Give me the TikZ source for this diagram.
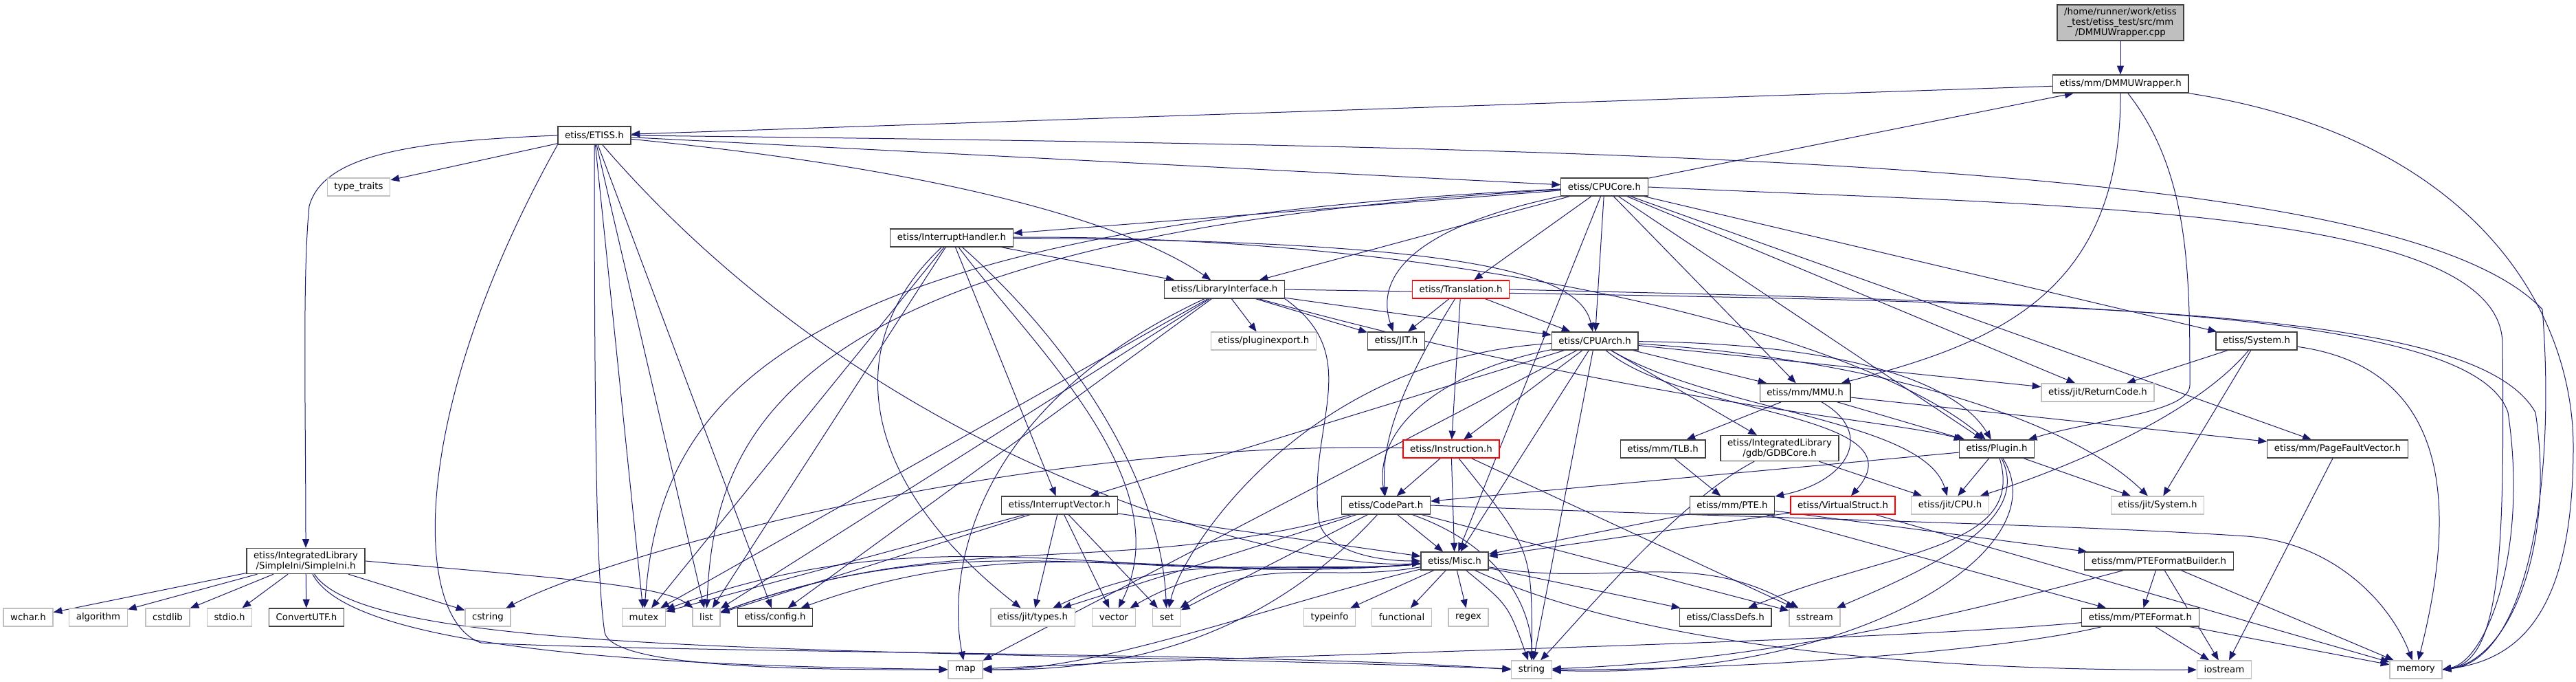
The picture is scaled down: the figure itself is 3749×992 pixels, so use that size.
\documentclass[tikz,border=0pt]{standalone}
\usepackage{fontspec}
\setmainfont{DejaVu Sans}
\usetikzlibrary{arrows.meta,backgrounds}
\definecolor{edgeblue}{HTML}{191970}
\definecolor{grey25}{HTML}{404040}
\definecolor{grey75}{HTML}{BFBFBF}

\begin{document}
\begin{tikzpicture}[
    x=0.75pt, y=0.75pt,
    box/.style={rectangle, draw=grey25, fill=white, line width=1pt, minimum height=19.5pt, inner xsep=7.6pt, inner ysep=3.4pt, align=center, font=\fontsize{10}{11.25}\selectfont},
    sys/.style={box, draw=grey75},
    trunc/.style={box, draw=red},
    root/.style={box, fill=grey75},
    arrow/.style={-{Triangle[length=9.5pt, width=7.5pt]}, draw=edgeblue, line width=0.75pt},
]
\useasboundingbox (0,0) rectangle (3749,-992);

% ====== Top ======
\node[root] (cpp) at (3086,-33) {/home/runner/work/etiss\\\_test/etiss\_test/src/mm\\/DMMUWrapper.cpp};
\node[box] (dmmu) at (3086,-122) {etiss/mm/DMMUWrapper.h};
\node[box] (etiss) at (865,-197) {etiss/ETISS.h};
\node[sys] (typeTraits) at (522,-272) {type\_traits};
\node[box] (cpuCore) at (2335,-272) {etiss/CPUCore.h};
\node[box] (intHandler) at (1385,-346) {etiss/InterruptHandler.h};
\node[box] (libIf) at (1782,-421) {etiss/LibraryInterface.h};
\node[trunc] (transl) at (2126,-421) {etiss/Translation.h};

% ====== Middle ======
\node[sys] (plugExp) at (1839,-496) {etiss/pluginexport.h};
\node[box] (jit) at (2032,-496) {etiss/JIT.h};
\node[box] (cpuArch) at (2321,-496) {etiss/CPUArch.h};
\node[box] (sysH) at (3284,-496) {etiss/System.h};
\node[box] (mmu) at (2627,-571) {etiss/mm/MMU.h};
\node[sys] (retCode) at (3053,-571) {etiss/jit/ReturnCode.h};
\node[trunc] (instr) at (2112,-653) {etiss/Instruction.h};
\node[box] (tlb) at (2420,-653) {etiss/mm/TLB.h};
\node[box] (gdbCore) at (2590,-652) {etiss/IntegratedLibrary\\/gdb/GDBCore.h};
\node[box] (plugin) at (2906,-653) {etiss/Plugin.h};
\node[box] (pfVec) at (3402,-653) {etiss/mm/PageFaultVector.h};
\node[box] (intVec) at (1542,-735) {etiss/InterruptVector.h};
\node[box] (codePart) at (2017,-735) {etiss/CodePart.h};
\node[box] (pte) at (2521,-735) {etiss/mm/PTE.h};
\node[trunc] (vStruct) at (2682,-735) {etiss/VirtualStruct.h};
\node[sys] (jitCpu) at (2838,-735) {etiss/jit/CPU.h};
\node[sys] (jitSys) at (3140,-735) {etiss/jit/System.h};
\node[box] (simpleIni) at (445,-816) {etiss/IntegratedLibrary\\/SimpleIni/SimpleIni.h};
\node[box] (misc) at (2117,-816) {etiss/Misc.h};
\node[box] (pteBuilder) at (3142,-816) {etiss/mm/PTEFormatBuilder.h};

% ====== Bottom ======
\node[sys] (wcharH) at (41,-898) {wchar.h};
\node[sys] (algo) at (143,-898) {algorithm};
\node[sys] (cstdlibH) at (244,-898) {cstdlib};
\node[sys] (stdioH) at (334,-898) {stdio.h};
\node[box] (convUtf) at (446,-898) {ConvertUTF.h};
\node[sys] (cstringH) at (710,-898) {cstring};
\node[sys] (mutex) at (937,-898) {mutex};
\node[sys] (list) at (1028,-898) {list};
\node[box] (config) at (1128,-898) {etiss/config.h};
\node[sys] (jitTypes) at (1503,-898) {etiss/jit/types.h};
\node[sys] (vector) at (1621,-898) {vector};
\node[sys] (set) at (1698,-898) {set};
\node[sys] (typeinfo) at (1935,-898) {typeinfo};
\node[sys] (functional) at (2040,-898) {functional};
\node[sys] (regex) at (2137,-898) {regex};
\node[box] (classDefs) at (2511,-898) {etiss/ClassDefs.h};
\node[sys] (sstream) at (2641,-898) {sstream};
\node[box] (pteFmt) at (3115,-898) {etiss/mm/PTEFormat.h};
\node[sys] (map) at (1405,-974) {map};
\node[sys] (string) at (2229,-974) {string};
\node[sys] (iostream) at (3237,-974) {iostream};
\node[sys] (memory) at (3516,-974) {memory};

\begin{scope}[on background layer]
\fill[white] (0,0) rectangle (3749,-992);

% ====== Wrapper ======
\draw[arrow] (cpp) -- (dmmu);
\draw[arrow] (dmmu) -- (etiss);
\draw[arrow] (dmmu) .. controls (3087,-430) and (2900,-500) .. (mmu);
\draw[arrow] (dmmu) .. controls (3187,-250) and (3187,-400) .. (3187,-560) .. controls (3187,-600) and (3050,-610) .. (plugin);
\draw[arrow] (dmmu.south east) .. controls (3600,-200) and (3745,-450) .. (3745,-650) .. controls (3745,-900) and (3660,-960) .. (memory.east);

% ====== ETISS.h ======
\draw[arrow] (etiss) -- (typeTraits);
\draw[arrow] (etiss.west) .. controls (600,-205) and (470,-225) .. (450,-300) .. controls (440,-400) and (445,-600) .. (simpleIni.north);
\draw[arrow] (etiss) -- (cpuCore);
\draw[arrow] (etiss) .. controls (1400,-250) and (1650,-330) .. (libIf);
\draw[arrow] (etiss) .. controls (1300,-700) and (1900,-830) .. (misc);
\draw[arrow] (etiss) -- (config);
\draw[arrow] (etiss) -- (mutex);
\draw[arrow] (etiss) -- (list);
\draw[arrow] (etiss.south) .. controls (865,-700) and (870,-850) .. (880,-920) .. controls (890,-965) and (1100,-975) .. (map.west);
\draw[arrow] (etiss.south west) .. controls (594,-600) and (600,-900) .. (700,-935) .. controls (1000,-950) and (1900,-950) .. (string.west);
\draw[arrow] (etiss.east) .. controls (2500,-215) and (3500,-240) .. (3700,-450) .. controls (3720,-700) and (3680,-960) .. (memory.east);

% ====== CPUCore.h ======
\draw[arrow] (cpuCore) -- (dmmu);
\draw[arrow] (cpuCore) -- (intHandler);
\draw[arrow] (cpuCore) -- (libIf);
\draw[arrow] (cpuCore) -- (transl);
\draw[arrow] (cpuCore) .. controls (2060,-330) and (2000,-400) .. (jit);
\draw[arrow] (cpuCore) -- (cpuArch);
\draw[arrow] (cpuCore) -- (mmu);
\draw[arrow] (cpuCore) -- (plugin);
\draw[arrow] (cpuCore) -- (sysH);
\draw[arrow] (cpuCore) -- (retCode);
\draw[arrow] (cpuCore) -- (pfVec);
\draw[arrow] (cpuCore) -- (misc);
\draw[arrow] (cpuCore) .. controls (1100,-330) and (960,-600) .. (mutex);
\draw[arrow] (cpuCore) .. controls (1150,-340) and (1040,-620) .. (list);
\draw[arrow] (cpuCore.east) .. controls (3000,-300) and (3640,-300) .. (3642,-500) .. controls (3645,-800) and (3640,-960) .. (memory.east);

% ====== InterruptHandler.h ======
\draw[arrow] (intHandler) -- (libIf);
\draw[arrow] (intHandler) .. controls (2150,-350) and (2300,-400) .. (cpuArch);
\draw[arrow] (intHandler) .. controls (2100,-340) and (2700,-480) .. (plugin);
\draw[arrow] (intHandler) -- (intVec);
\draw[arrow] (intHandler) -- (mutex);
\draw[arrow] (intHandler) -- (list);
\draw[arrow] (intHandler) .. controls (1220,-500) and (1250,-700) .. (jitTypes);
\draw[arrow] (intHandler) .. controls (1560,-500) and (1690,-700) .. (set);
\draw[arrow] (intHandler) .. controls (1500,-500) and (1720,-700) .. (vector);

% ====== LibraryInterface.h ======
\draw[arrow] (libIf) -- (plugExp);
\draw[arrow] (libIf) -- (jit);
\draw[arrow] (libIf) -- (cpuArch);
\draw[arrow] (libIf) .. controls (2400,-590) and (2750,-610) .. (plugin);
\draw[arrow] (libIf.south east) .. controls (1990,-520) and (1900,-620) .. (1920,-760) .. controls (1930,-800) and (2000,-816) .. (misc.west);
\draw[arrow] (libIf) -- (config);
\draw[arrow] (libIf) -- (mutex);
\draw[arrow] (libIf) -- (list);
\draw[arrow] (libIf) .. controls (1400,-600) and (1380,-850) .. (map);
\draw[arrow] (libIf.east) .. controls (3000,-440) and (3600,-440) .. (3690,-600) .. controls (3720,-800) and (3650,-960) .. (memory.east);

% ====== Translation.h ======
\draw[arrow] (transl) -- (jit);
\draw[arrow] (transl) -- (instr);
\draw[arrow] (transl) -- (cpuArch);
\draw[arrow] (transl) .. controls (2040,-560) and (2010,-640) .. (codePart);
\draw[arrow] (transl.east) .. controls (3000,-440) and (3600,-450) .. (3650,-600) .. controls (3680,-800) and (3620,-960) .. (memory.east);

% ====== CPUArch.h ======
\draw[arrow] (cpuArch) -- (intVec);
\draw[arrow] (cpuArch) -- (instr);
\draw[arrow] (cpuArch) .. controls (2100,-540) and (2000,-620) .. (codePart);
\draw[arrow] (cpuArch) -- (misc);
\draw[arrow] (cpuArch) -- (string);
\draw[arrow] (cpuArch) -- (map);
\draw[arrow] (cpuArch) .. controls (1900,-520) and (1720,-800) .. (set);
\draw[arrow] (cpuArch) -- (mmu);
\draw[arrow] (cpuArch) -- (gdbCore);
\draw[arrow] (cpuArch) .. controls (2450,-605) and (2800,-600) .. (vStruct);
\draw[arrow] (cpuArch) .. controls (2700,-500) and (2850,-560) .. (plugin);
\draw[arrow] (cpuArch) .. controls (2500,-600) and (2800,-610) .. (jitCpu);
\draw[arrow] (cpuArch) .. controls (2700,-520) and (3000,-600) .. (jitSys);
\draw[arrow] (cpuArch) -- (retCode);

% ====== mm ======
\draw[arrow] (mmu) -- (tlb);
\draw[arrow] (mmu) .. controls (2730,-630) and (2690,-700) .. (pte);
\draw[arrow] (mmu) -- (plugin);
\draw[arrow] (mmu) -- (pfVec);
\draw[arrow] (tlb) -- (pte);
\draw[arrow] (pte) -- (misc);
\draw[arrow] (pte) -- (pteBuilder);
\draw[arrow] (pte) -- (pteFmt);
\draw[arrow] (pfVec) -- (iostream);
\draw[arrow] (pteBuilder) -- (pteFmt);
\draw[arrow] (pteBuilder) -- (iostream);
\draw[arrow] (pteBuilder) -- (memory);
\draw[arrow] (pteBuilder) .. controls (2900,-880) and (2600,-960) .. (string);
\draw[arrow] (pteFmt) .. controls (2700,-935) and (1900,-950) .. (map);
\draw[arrow] (pteFmt) .. controls (2900,-950) and (2500,-975) .. (string);
\draw[arrow] (pteFmt) -- (iostream);
\draw[arrow] (pteFmt) -- (memory);

% ====== GDBCore.h, Instruction.h ======
\draw[arrow] (gdbCore) .. controls (2440,-730) and (2300,-900) .. (string);
\draw[arrow] (gdbCore) -- (jitCpu);
\draw[arrow] (instr) -- (codePart);
\draw[arrow] (instr) -- (misc);
\draw[arrow] (instr) .. controls (2230,-800) .. (string);
\draw[arrow] (instr) -- (sstream);
\draw[arrow] (instr) .. controls (1500,-640) and (900,-800) .. (cstringH);

% ====== Plugin.h, System.h ======
\draw[arrow] (plugin) -- (codePart);
\draw[arrow] (plugin) -- (jitCpu);
\draw[arrow] (plugin) -- (jitSys);
\draw[arrow] (plugin) .. controls (2950,-800) and (2750,-800) .. (classDefs);
\draw[arrow] (plugin) .. controls (2960,-760) and (2800,-830) .. (sstream);
\draw[arrow] (plugin) .. controls (3000,-800) and (2700,-990) .. (string);
\draw[arrow] (sysH) -- (retCode);
\draw[arrow] (sysH) .. controls (3180,-620) and (2950,-700) .. (jitCpu);
\draw[arrow] (sysH) -- (jitSys);
\draw[arrow] (sysH) .. controls (3600,-540) and (3560,-800) .. (memory);

% ====== InterruptVector.h, CodePart.h, VirtualStruct.h ======
\draw[arrow] (intVec) -- (misc);
\draw[arrow] (intVec) -- (mutex);
\draw[arrow] (intVec) -- (list);
\draw[arrow] (intVec) -- (jitTypes);
\draw[arrow] (intVec) -- (vector);
\draw[arrow] (intVec) -- (set);
\draw[arrow] (codePart) -- (misc);
\draw[arrow] (codePart) -- (sstream);
\draw[arrow] (codePart) -- (jitTypes);
\draw[arrow] (codePart) -- (set);
\draw[arrow] (codePart) to[out=195, in=20] (list);
\draw[arrow] (codePart) .. controls (1820,-950) and (1600,-975) .. (map);
\draw[arrow] (codePart) .. controls (2200,-800) and (2230,-900) .. (string);
\draw[arrow] (codePart.east) .. controls (2500,-752) and (3000,-762) .. (3270,-780) .. controls (3400,-790) and (3480,-880) .. (memory);
\draw[arrow] (vStruct) -- (misc);
\draw[arrow] (vStruct) -- (memory);

% ====== Misc.h ======
\draw[arrow] (misc) to[out=185, in=20] (mutex);
\draw[arrow] (misc) to[out=185, in=20] (list);
\draw[arrow] (misc) to[out=185, in=20] (config);
\draw[arrow] (misc) to[out=185, in=25] (jitTypes);
\draw[arrow] (misc) to[out=185, in=30] (vector);
\draw[arrow] (misc) to[out=190, in=35] (set);
\draw[arrow] (misc) -- (typeinfo);
\draw[arrow] (misc) -- (functional);
\draw[arrow] (misc) -- (regex);
\draw[arrow] (misc) -- (classDefs);
\draw[arrow] (misc) to[out=-10, in=150] (sstream);
\draw[arrow] (misc) .. controls (2450,-970) and (3000,-975) .. (iostream);
\draw[arrow] (misc) .. controls (1850,-880) and (1600,-975) .. (map);
\draw[arrow] (misc) .. controls (2195,-880) .. (string);

% ====== SimpleIni.h ======
\draw[arrow] (simpleIni) -- (wcharH);
\draw[arrow] (simpleIni) -- (algo);
\draw[arrow] (simpleIni) -- (cstdlibH);
\draw[arrow] (simpleIni) -- (stdioH);
\draw[arrow] (simpleIni) -- (convUtf);
\draw[arrow] (simpleIni) -- (cstringH);
\draw[arrow] (simpleIni.east) .. controls (800,-840) and (960,-850) .. (list);
\draw[arrow] (simpleIni) .. controls (520,-960) and (1100,-970) .. (map);
\draw[arrow] (simpleIni) .. controls (540,-960) and (1300,-940) .. (string);
\end{scope}

\end{tikzpicture}
\end{document}
